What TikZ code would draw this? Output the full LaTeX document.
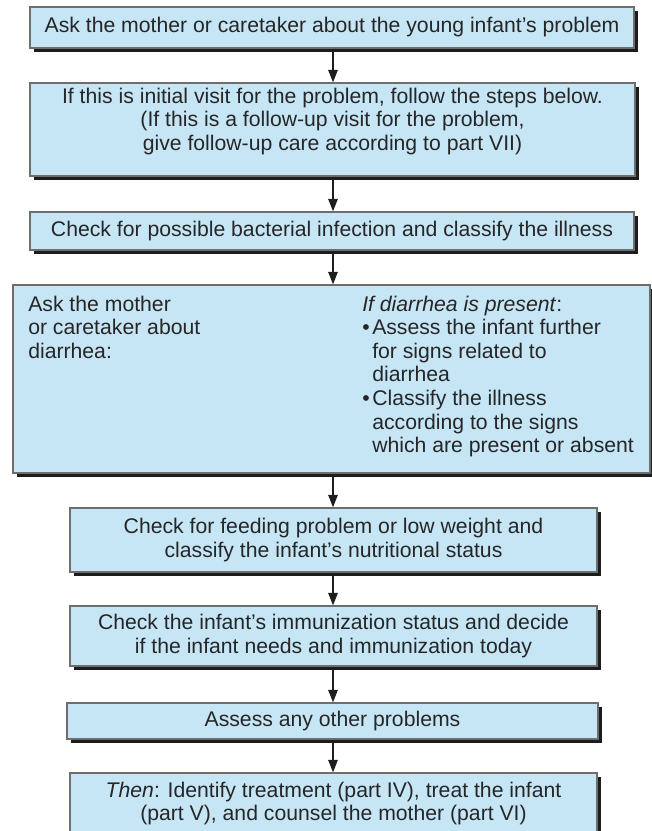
\documentclass[tikz,border=0pt]{standalone}
\usepackage{fontspec}
\setmainfont{Liberation Sans}
\usetikzlibrary{arrows.meta,shadows}
\definecolor{boxfill}{RGB}{198,230,246}
\definecolor{boxline}{RGB}{110,110,110}
\definecolor{shadowc}{RGB}{28,28,28}
\definecolor{textc}{RGB}{38,38,38}
\definecolor{arrc}{RGB}{30,30,30}
\begin{document}
\begin{tikzpicture}[x=0.75pt,y=-0.75pt,
  box/.style={draw=boxline, line width=0.8pt, fill=boxfill, inner sep=0pt,
    drop shadow={shadow xshift=3.3pt, shadow yshift=-3.3pt, fill=shadowc, opacity=1},
    font=\fontsize{15.9}{17.7}\selectfont, text=textc, align=center},
  txt/.style={inner sep=0pt, font=\fontsize{15.9}{17.7}\selectfont, text=textc},
  arr/.style={draw=arrc, line width=1.5pt, -{Triangle[width=7pt,length=9.5pt]}, fill=arrc}]
\path[use as bounding box] (0,0) rectangle (652,831);
\clip (0,0) rectangle (652,831);
\fill[white] (0,0) rectangle (652,831);
\coordinate (ax) at (333,0);
% boxes
\node[box, minimum width=453pt, minimum height=30.75pt] (b1) at (332,27.5)
  {Ask the mother or caretaker about the young infant’s problem};
\node[box, minimum width=453.75pt, minimum height=69.75pt] (b2) at (332.5,129.5) {};
\node[txt, align=center] (t2) at (332.5,121.5)
  {If this is initial visit for the problem, follow the steps below.\\
   (If this is a follow-up visit for the problem,\\
   give follow-up care according to part VII)};
\node[box, minimum width=453pt, minimum height=28.5pt] (b3) at (332,231)
  {Check for possible bacterial infection and classify the illness};
\node[box, minimum width=477.75pt, minimum height=141pt] (b4) at (331.5,379) {};
\node[txt, align=left, anchor=north west] (t4l) at (28,295.5)
  {Ask the mother\\or caretaker about\\diarrhea:};
\node[txt, align=left, anchor=north west] (t4r) at (362,295.5)
  {\textit{If diarrhea is present}:\\
   \makebox[7.5pt][l]{•}Assess the infant further\\
   \hspace*{7.5pt}for signs related to\\
   \hspace*{7.5pt}diarrhea\\
   \makebox[7.5pt][l]{•}Classify the illness\\
   \hspace*{7.5pt}according to the signs\\
   \hspace*{7.5pt}which are present or absent};
\node[box, minimum width=395.25pt, minimum height=48pt] (b5) at (333.5,540)
  {Check for feeding problem or low weight and\\classify the infant’s nutritional status};
\node[box, minimum width=395.25pt, minimum height=45pt] (b6) at (333.5,636)
  {Check the infant’s immunization status and decide\\if the infant needs and immunization today};
\node[box, minimum width=398.25pt, minimum height=27pt] (b7) at (332.5,721)
  {Assess any other problems};
\node[box, minimum width=395.25pt, minimum height=45.75pt] (b8) at (333.5,803.5)
  {\textit{Then}: Identify treatment (part IV), treat the infant\\(part V), and counsel the mother (part VI)};
% arrows
\draw[arr] (b1.south -| ax) -- (b2.north -| ax);
\draw[arr] (b2.south -| ax) -- (b3.north -| ax);
\draw[arr] (b3.south -| ax) -- (b4.north -| ax);
\draw[arr] (b4.south -| ax) -- (b5.north -| ax);
\draw[arr] (b5.south -| ax) -- (b6.north -| ax);
\draw[arr] (b6.south -| ax) -- (b7.north -| ax);
\draw[arr] (b7.south -| ax) -- (b8.north -| ax);
\end{tikzpicture}
\end{document}
